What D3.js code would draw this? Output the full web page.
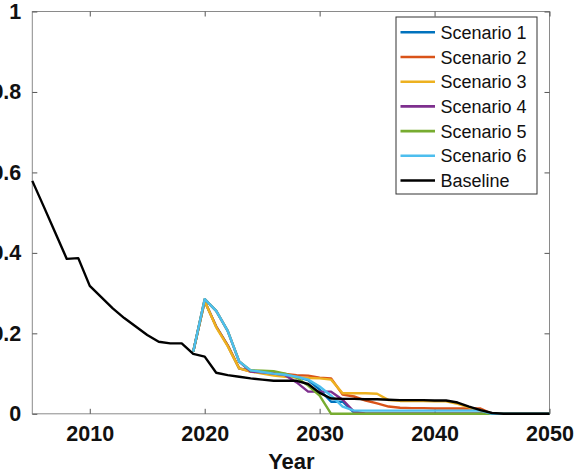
<!DOCTYPE html>
<html>
<head>
<meta charset="utf-8">
<script src="https://cdn.jsdelivr.net/npm/d3@7"></script>
<style>
  body { margin: 0; background: #fff; }
  svg { display: block; font-family: Arial, "Liberation Sans", Helvetica, sans-serif; }
</style>
</head>
<body>
<svg width="574" height="474"></svg>
<script>
// values
const baseYears = d3.range(2005, 2051)
const baseline = [0.579, 0.515, 0.45, 0.385, 0.387, 0.318, 0.29, 0.262, 0.238, 0.217,
  0.196, 0.179, 0.175, 0.175, 0.149, 0.142, 0.102, 0.096, 0.092, 0.088,
  0.085, 0.082, 0.082, 0.082, 0.074, 0.052, 0.038, 0.037, 0.037, 0.036,
  0.036, 0.035, 0.034, 0.034, 0.034, 0.033, 0.033, 0.028, 0.018, 0.009,
  0.002, 0, 0, 0, 0, 0]

const scenYears = d3.range(2019, 2051)
const scenario1 = [0.154, 0.28, 0.217, 0.17, 0.113, 0.107, 0.104, 0.1, 0.097, 0.092,
  0.084, 0.06, 0.03, 0.03, 0.003, 0, 0, 0, 0, 0, 0, 0, 0, 0, 0, 0, 0, 0, 0, 0, 0, 0]
const scenario2 = [0.154, 0.28, 0.217, 0.17, 0.113, 0.105, 0.104, 0.102, 0.099, 0.096,
  0.095, 0.09, 0.088, 0.048, 0.043, 0.033, 0.026, 0.018, 0.015, 0.014,
  0.014, 0.013, 0.013, 0.013, 0.013, 0.013, 0, 0, 0, 0, 0, 0]
const scenario3 = [0.154, 0.28, 0.215, 0.168, 0.113, 0.105, 0.1, 0.095, 0.092, 0.09,
  0.089, 0.088, 0.085, 0.051, 0.051, 0.051, 0.05, 0.034, 0.032, 0.032,
  0.032, 0.031, 0.031, 0.025, 0.016, 0.008, 0, 0, 0, 0, 0, 0]
const scenario4 = [0.154, 0.285, 0.256, 0.206, 0.13, 0.105, 0.103, 0.1, 0.096, 0.078,
  0.055, 0.055, 0.055, 0.035, 0.005, 0, 0, 0, 0, 0, 0, 0, 0, 0, 0, 0, 0, 0, 0, 0, 0, 0]
const scenario5 = [0.154, 0.285, 0.256, 0.206, 0.13, 0.108, 0.107, 0.106, 0.1, 0.09,
  0.07, 0.045, 0, 0, 0, 0, 0, 0, 0, 0, 0, 0, 0, 0, 0, 0, 0, 0, 0, 0, 0, 0]
const scenario6 = [0.154, 0.285, 0.256, 0.206, 0.13, 0.108, 0.104, 0.1, 0.097, 0.092,
  0.085, 0.068, 0.045, 0.018, 0.008, 0.008, 0.008, 0.008, 0.008, 0.008,
  0.008, 0.008, 0.008, 0.008, 0.008, 0.008, 0, 0, 0, 0, 0, 0]

const seriesNames = ["Scenario 1", "Scenario 2", "Scenario 3", "Scenario 4", "Scenario 5", "Scenario 6", "Baseline"]
const seriesColors = ["#0072BD", "#D95319", "#EDB120", "#7E2F8E", "#77AC30", "#4DBEEE", "#000000"]
const xTicks = [2010, 2020, 2030, 2040, 2050]
const yTicks = [0, 0.2, 0.4, 0.6, 0.8, 1]

const series = [
  { years: scenYears, vals: scenario1 },
  { years: scenYears, vals: scenario2 },
  { years: scenYears, vals: scenario3 },
  { years: scenYears, vals: scenario4 },
  { years: scenYears, vals: scenario5 },
  { years: scenYears, vals: scenario6 },
  { years: baseYears, vals: baseline }
]

const svg = d3.select("svg")
const plot = { left: 32.3, right: 549.5, top: 11.5, bottom: 413.8 }

const x = d3.scaleLinear().domain([2005, 2050]).range([plot.left, plot.right])
const y = d3.scaleLinear().domain([0, 1]).range([plot.bottom, plot.top])

const axisColor = "#8a8a8a"

// box
svg.append("rect")
  .attr("x", plot.left).attr("y", plot.top)
  .attr("width", plot.right - plot.left).attr("height", plot.bottom - plot.top)
  .attr("fill", "none").attr("stroke", axisColor).attr("stroke-width", 1)

// axes, ticks pointing inward
const styleAxis = g => {
  g.select(".domain").remove()
  g.selectAll(".tick line").attr("stroke", "#555")
  g.selectAll(".tick text")
    .attr("fill", "#111").style("font-size", "21.5px").style("font-weight", "bold")
}

svg.append("g")
  .attr("transform", `translate(0,${plot.bottom})`)
  .call(d3.axisBottom(x).tickValues(xTicks).tickFormat(d3.format("d")).tickSizeInner(-5).tickSizeOuter(0).tickPadding(12))
  .call(styleAxis)

svg.append("g")
  .attr("transform", `translate(0,${plot.top})`)
  .call(d3.axisTop(x).tickValues(xTicks).tickFormat("").tickSizeInner(-5).tickSizeOuter(0))
  .call(styleAxis)

svg.append("g")
  .attr("transform", `translate(${plot.left},0)`)
  .call(d3.axisLeft(y).tickValues(yTicks).tickFormat(d => d === 0 || d === 1 ? d3.format("d")(d) : d3.format(".1f")(d)).tickSizeInner(-5).tickSizeOuter(0).tickPadding(11))
  .call(styleAxis)

svg.append("g")
  .attr("transform", `translate(${plot.right},0)`)
  .call(d3.axisRight(y).tickValues(yTicks).tickFormat("").tickSizeInner(-5).tickSizeOuter(0))
  .call(styleAxis)

svg.append("text")
  .attr("x", (plot.left + plot.right) / 2 + 0.5).attr("y", 469)
  .attr("text-anchor", "middle")
  .style("font-size", "22px").style("font-weight", "bold").attr("fill", "#111")
  .text("Year")

// lines
const line = d3.line()
  .x(d => x(d[0]))
  .y(d => y(d[1]))

const lines = svg.append("g")
series.forEach((s, i) => {
  lines.append("path")
    .datum(s.years.map((yr, k) => [yr, s.vals[k]]))
    .attr("d", line)
    .attr("fill", "none")
    .attr("stroke", seriesColors[i])
    .attr("stroke-width", 2.4)
    .attr("stroke-linejoin", "round")
})

// legend
const legend = svg.append("g").attr("transform", "translate(396,17)")
legend.append("rect")
  .attr("width", 141).attr("height", 177)
  .attr("fill", "#fff").attr("stroke", "#333").attr("stroke-width", 1)

seriesNames.forEach((name, i) => {
  const row = legend.append("g").attr("transform", `translate(0,${15.3 + i * 24.7})`)
  row.append("line")
    .attr("x1", 4.5).attr("x2", 39)
    .attr("stroke", seriesColors[i]).attr("stroke-width", 2.6)
  row.append("text")
    .attr("x", 44.5).attr("y", 6.5)
    .style("font-size", "18px").attr("fill", "#111")
    .text(name)
})
</script>
</body>
</html>
